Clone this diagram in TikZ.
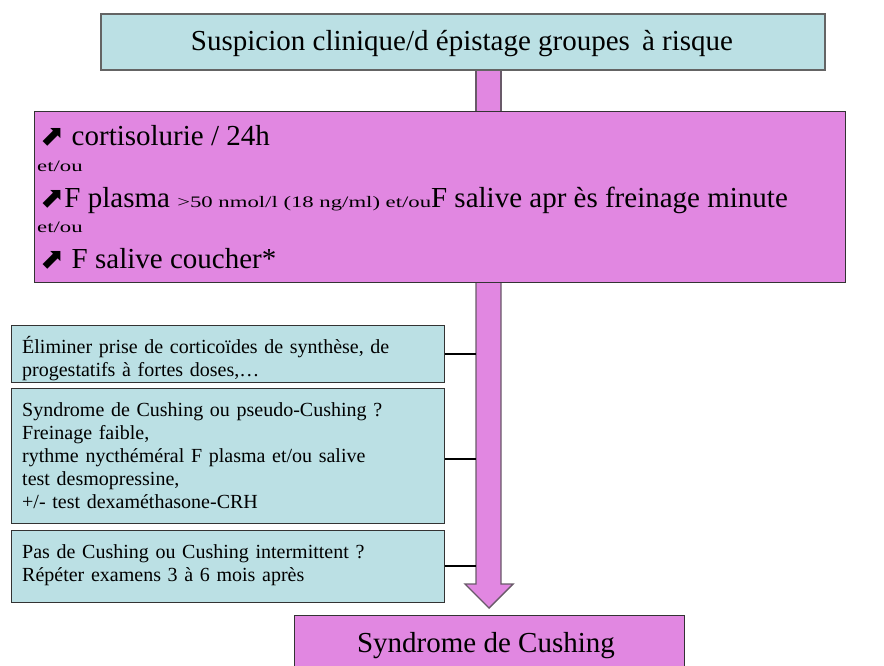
\documentclass[tikz,border=0pt]{standalone}
\usepackage{fontspec}
\usepackage{graphicx}
\setmainfont{Liberation Serif}
\newfontfamily\dvs{DejaVu Sans}
\definecolor{pinkf}{RGB}{225,135,225}
\definecolor{bluef}{RGB}{187,224,228}
\definecolor{edgegray}{RGB}{100,100,100}
\definecolor{shaftedge}{RGB}{105,90,105}
\tikzset{
  bluebox/.style={draw=black!80, line width=0.9pt, fill=bluef, anchor=north west, inner sep=0pt},
  topbox/.style={draw=edgegray, line width=1.6pt, fill=bluef, anchor=north west, inner sep=0pt},
  pinkbox/.style={draw=black!80, line width=1.1pt, fill=pinkf, anchor=north west, inner sep=0pt},
  shaft/.style={draw=shaftedge, line width=1.4pt, fill=pinkf},
  conn/.style={draw=black, line width=2pt},
  bigtxt/.style={font=\fontsize{29}{33}\selectfont, inner sep=0pt},
  bodytxt/.style={font=\fontsize{20}{23}\selectfont, inner sep=0pt, align=left, text width=430pt},
}
\newcommand{\upar}{{\dvs\fontsize{29}{30}\selectfont ⬈}}
\newcommand{\smallstr}[1]{\scalebox{1.42}[1]{\fontsize{16}{19}\selectfont #1}}
\begin{document}
\begin{tikzpicture}[x=1pt,y=-1pt]
\useasboundingbox (0,0) rectangle (884,665);
% stub between top box and pink box
\path[shaft] (476,68) rectangle (501,112);
% main boxes
\node[topbox, minimum width=724pt, minimum height=56pt] (top) at (100,13) {};
\node[bigtxt, anchor=base] (toptxt) at (462,50) {Suspicion clinique/d épistage groupes\, à risque};
% shaft + head
\coordinate (sl) at (476,0);
\path[shaft] (476,280) -- (476,584) -- (465,584) -- (489,608) -- (513,584) -- (501,584) -- (501,280);
\node[pinkbox, minimum width=811pt, minimum height=171pt] (pink) at (34,111) {};
\node[bigtxt, anchor=base west] (l1) at (40,145) {\upar\ cortisolurie / 24h};
\node[anchor=base west, inner sep=0pt] (l2) at (37,171) {\smallstr{et/ou}};
\node[bigtxt, anchor=base west] (l3) at (40,207) {\upar F plasma \smallstr{>50 nmol/l (18 ng/ml) et/ou}F salive apr ès freinage minute};
\node[anchor=base west, inner sep=0pt] (l4) at (37,232) {\smallstr{et/ou}};
\node[bigtxt, anchor=base west] (l5) at (40,268) {\upar\ F salive coucher*};
% side boxes
\node[bluebox, minimum width=433pt, minimum height=57pt] (b1) at (11,325) {};
\node[bluebox, minimum width=433pt, minimum height=135pt] (b2) at (11,388) {};
\node[bluebox, minimum width=433pt, minimum height=72pt] (b3) at (11,530) {};
\node[bodytxt, anchor=base west] (t1) at (22,353) {Éliminer prise de corticoïdes de synthèse, de\\progestatifs à fortes doses,…};
\node[bodytxt, anchor=base west] (t2) at (22,416) {Syndrome de Cushing ou pseudo-Cushing ?\\Freinage faible,\\rythme nycthéméral F plasma et/ou salive\\test desmopressine,\\+/- test dexaméthasone-CRH};
\node[bodytxt, anchor=base west] (t3) at (22,558) {Pas de Cushing ou Cushing intermittent ?\\Répéter examens 3 à 6 mois après};
% connectors
\draw[conn] (b1.east) -- (b1.east -| sl);
\draw[conn] ([yshift=-3pt]b2.east) -- ([yshift=-3pt]b2.east -| sl);
\draw[conn] (b3.east) -- (b3.east -| sl);
% bottom box
\node[pinkbox, minimum width=390pt, minimum height=60pt] (bot) at (294,615) {};
\node[bigtxt, anchor=base] (bottxt) at (486,652) {Syndrome de Cushing};
\end{tikzpicture}
\end{document}
